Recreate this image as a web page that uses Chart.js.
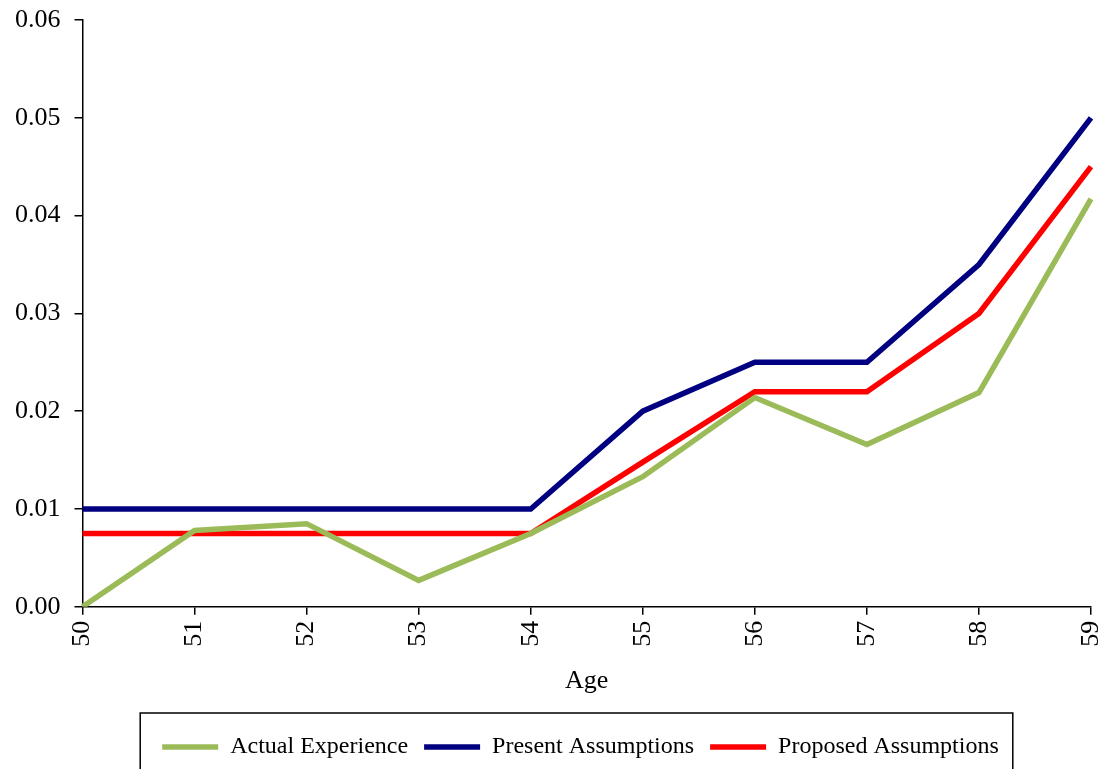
<!DOCTYPE html>
<html>
<head>
<meta charset="utf-8">
<script src="https://cdn.jsdelivr.net/npm/chart.js@4/dist/chart.umd.min.js"></script>
<style>
  html, body { margin: 0; padding: 0; background: #fff; }
  #wrap { width: 1104px; height: 769px; }
</style>
</head>
<body>
<div id="wrap"><canvas id="chartAge"></canvas></div>
<script>
const ages = ["50", "51", "52", "53", "54", "55", "56", "57", "58", "59"];
const actual = [0.0, 0.0078, 0.0085, 0.0027, 0.0075, 0.0133, 0.0214, 0.0166, 0.0219, 0.0417];
const present = [0.01, 0.01, 0.01, 0.01, 0.01, 0.02, 0.025, 0.025, 0.035, 0.05];
const proposed = [0.0075, 0.0075, 0.0075, 0.0075, 0.0075, 0.0148, 0.022, 0.022, 0.03, 0.045];

const serif = "'Liberation Serif', 'Times New Roman', serif";

// nudge the legend right a bit and draw the box round it (open at the bottom)
const legendBox = {
  id: "legendBox",
  afterUpdate(chart) {
    const lg = chart.legend;
    lg.left += 28;
    lg.right += 28;
    lg.adjustHitBoxes();
  },
  afterDraw(chart) {
    const boxes = chart.legend.legendHitBoxes;
    if (!boxes || !boxes.length) return;
    const left = Math.min(...boxes.map(b => b.left)) - 22;
    const right = Math.max(...boxes.map(b => b.left + b.width)) + 14;
    const top = chart.legend.top - 6;
    const ctx = chart.ctx;
    ctx.save();
    ctx.strokeStyle = "#000";
    ctx.lineWidth = 1.5;
    ctx.strokeRect(left, top, right - left, chart.height + 10 - top);
    ctx.restore();
  }
};

const line = (label, data, color) => ({
  label,
  data,
  borderColor: color,
  backgroundColor: color,
  borderWidth: 5.5,
  pointRadius: 0,
  tension: 0,
  fill: false
});

new Chart(document.getElementById("chartAge"), {
  type: "line",
  data: {
    labels: ages,
    datasets: [
      line("Actual Experience", actual, "#9BBB59"),
      line("Present Assumptions", present, "#000080"),
      line("Proposed Assumptions", proposed, "#FF0000")
    ]
  },
  options: {
    responsive: true,
    maintainAspectRatio: false,
    animation: false,
    layout: { padding: { left: 1, right: 0, top: 6, bottom: 0 } },
    scales: {
      x: {
        offset: false,
        afterFit: s => { s.paddingRight = 13; s.paddingLeft = 0; },
        grid: { display: true, drawOnChartArea: false, drawTicks: true, tickLength: 8, color: "#000", lineWidth: 1.5 },
        border: { color: "#000", width: 1.5 },
        ticks: { color: "#000", minRotation: 90, maxRotation: 90, padding: 6, font: { family: serif, size: 26 } },
        title: { display: true, text: "Age", color: "#000", padding: { top: 13, bottom: 22 }, font: { family: serif, size: 26 } }
      },
      y: {
        min: 0,
        max: 0.06,
        afterFit: s => { s.paddingTop = 20; },
        grid: { display: true, drawOnChartArea: false, drawTicks: true, tickLength: 8, color: "#000", lineWidth: 1.5 },
        border: { color: "#000", width: 1.5 },
        ticks: {
          stepSize: 0.01,
          color: "#000",
          padding: 14,
          font: { family: serif, size: 26 },
          callback: v => v.toFixed(2)
        }
      }
    },
    plugins: {
      legend: {
        position: "bottom",
        labels: {
          color: "#000",
          usePointStyle: true,
          pointStyle: "line",
          pointStyleWidth: 56,
          padding: 16,
          font: { family: serif, size: 24 }
        }
      },
      tooltip: { enabled: false }
    }
  },
  plugins: [legendBox]
});
</script>
</body>
</html>
